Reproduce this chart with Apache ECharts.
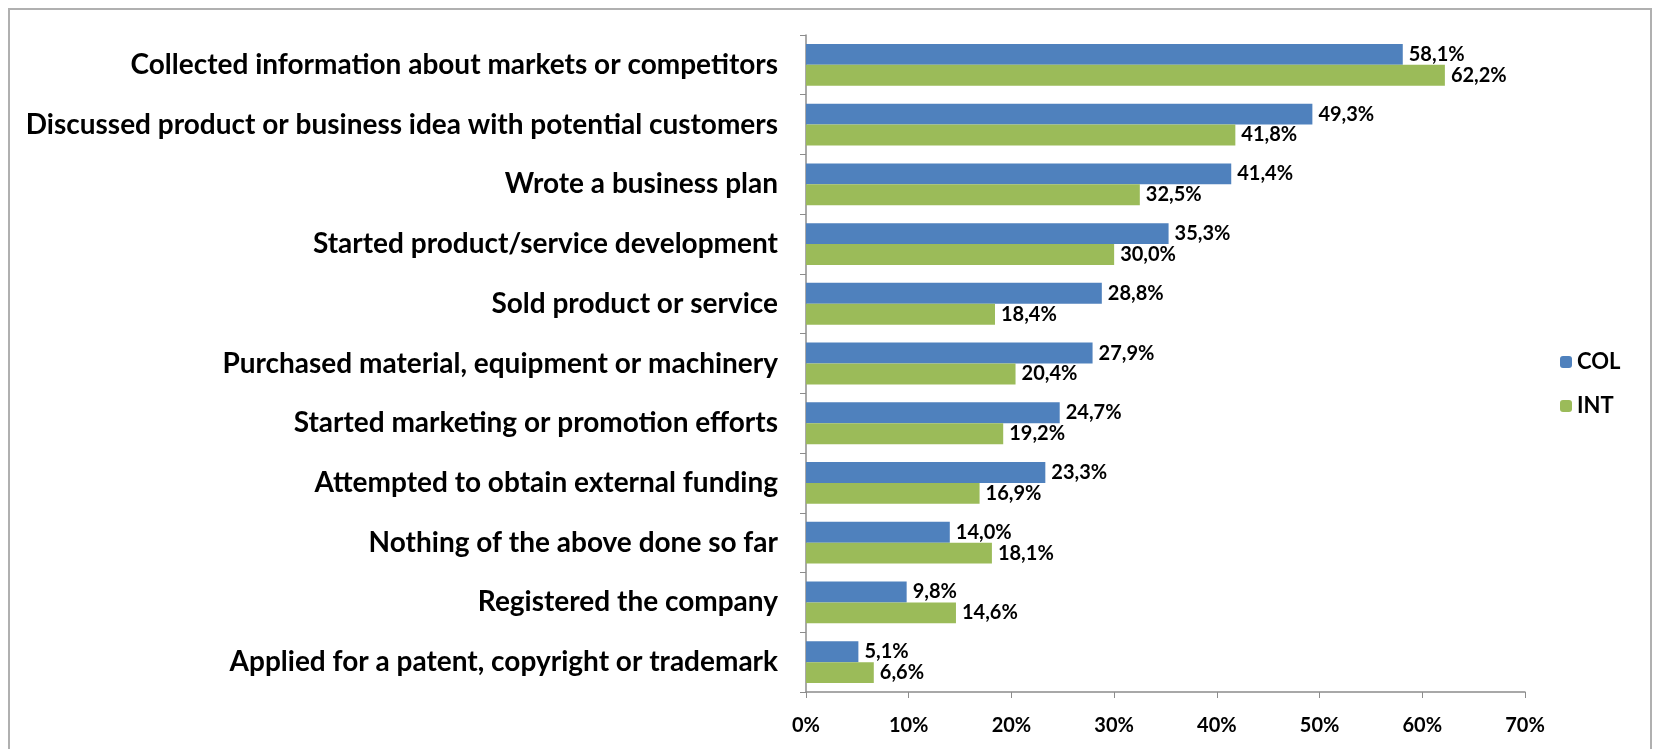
<!DOCTYPE html>
<html>
<head>
<meta charset="utf-8">
<script src="https://cdn.jsdelivr.net/npm/echarts@6/dist/echarts.min.js"></script>
<style>
    html, body { margin: 0; padding: 0; background: #fff; overflow: hidden; }
    #frame {
        position: absolute; left: 8px; top: 8px;
        width: 1640px; height: 780px;
        border: 2px solid #b0b0b0;
    }
    #chart { position: absolute; left: 0; top: 0; width: 1657px; height: 749px; }
</style>
</head>
<body>
<div id="frame"></div>
<div id="chart"></div>
<script>
    // categories, top to bottom
    const categories = [
        'Collected information about markets or competitors',
        'Discussed product or business idea with potential customers',
        'Wrote a business plan',
        'Started product/service development',
        'Sold product or service',
        'Purchased material, equipment or machinery',
        'Started marketing or promotion efforts',
        'Attempted to obtain external funding',
        'Nothing of the above done so far',
        'Registered the company',
        'Applied for a patent, copyright or trademark'
    ]
    const colValues = [58.1, 49.3, 41.4, 35.3, 28.8, 27.9, 24.7, 23.3, 14.0, 9.8, 5.1]
    const intValues = [62.2, 41.8, 32.5, 30.0, 18.4, 20.4, 19.2, 16.9, 18.1, 14.6, 6.6]

    const labelFont = 'Lato'
    let myChart = echarts.init(document.getElementById('chart'))

    function pct (p) {
        return p.value.toFixed(1).replace('.', ',') + '%'
    }

    let option = {
        animation: false,
        legend: {
            orient: 'vertical',
            left: 1555,
            top: 346,
            itemWidth: 12,
            itemHeight: 12,
            itemGap: 22,
            textStyle: {fontFamily: labelFont, fontWeight: 'bold', fontSize: 22, color: '#000'},
            data: ['COL', 'INT']
        },
        grid: {
            left: 806,
            right: 132,
            top: 35,
            bottom: 57
        },
        xAxis: {
            type: 'value',
            min: 0,
            max: 70,
            interval: 10,
            splitLine: {show: false},
            axisLine: {show: true, lineStyle: {color: '#8c8c8c', width: 1.5}},
            axisTick: {show: true, length: 6, lineStyle: {color: '#8c8c8c'}},
            axisLabel: {
                margin: 24,
                fontFamily: labelFont, fontWeight: 'bold', fontSize: 20, color: '#000',
                formatter: '{value}%'
            }
        },
        yAxis: {
            type: 'category',
            inverse: true,
            data: categories,
            axisLine: {show: true, lineStyle: {color: '#8c8c8c', width: 1.5}},
            axisTick: {show: true, length: 6, lineStyle: {color: '#8c8c8c'}},
            axisLabel: {
                margin: 28,
                fontFamily: labelFont, fontWeight: 'bold', fontSize: 28, color: '#000'
            }
        },
        series: [
            {
                name: 'COL',
                type: 'bar',
                data: colValues,
                barGap: '0%',
                barCategoryGap: '30%',
                itemStyle: {color: '#4f81bd'},
                label: {
                    show: true, position: 'right', distance: 6,
                    fontFamily: labelFont, fontWeight: 'bold', fontSize: 20, color: '#000',
                    formatter: pct
                }
            },
            {
                name: 'INT',
                type: 'bar',
                data: intValues,
                itemStyle: {color: '#9bbb59'},
                label: {
                    show: true, position: 'right', distance: 6,
                    fontFamily: labelFont, fontWeight: 'bold', fontSize: 20, color: '#000',
                    formatter: pct
                }
            }
        ]
    }
    myChart.setOption(option)
</script>
</body>
</html>
